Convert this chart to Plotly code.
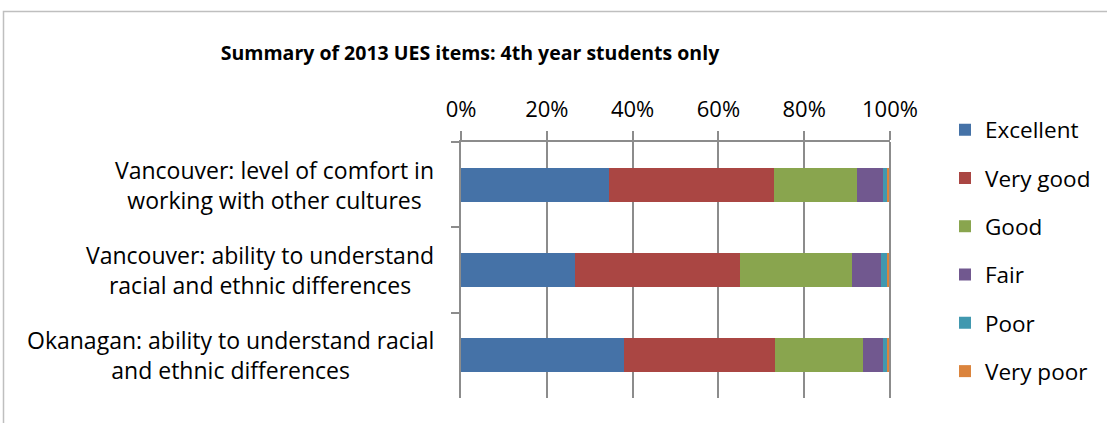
import plotly.graph_objects as go

categories = [
    "Vancouver: level of comfort in<br>working with other cultures",
    "Vancouver: ability to understand<br>racial and ethnic differences",
    "Okanagan: ability to understand racial<br>and ethnic differences",
]
series_names = ["Excellent", "Very good", "Good", "Fair", "Poor", "Very poor"]
excellent = [34.5, 26.6, 38.0]
very_good = [38.4, 38.4, 35.3]
good = [19.3, 26.1, 20.3]
fair = [6.2, 6.8, 4.8]
poor = [0.9, 1.4, 1.0]
very_poor = [0.7, 0.7, 0.6]
series_values = [excellent, very_good, good, fair, poor, very_poor]
colors = ["#4572A7", "#AA4643", "#89A54E", "#71588F", "#4198AF", "#DB843D"]
x_ticks = [0, 20, 40, 60, 80, 100]

W, H = 1107, 423
L, R, T, B = 461, 890, 142, 398


def px_x(xp):
    return (xp - L) / (R - L)


def px_y(yp):
    return (B - yp) / (B - T)


fig = go.Figure()
legend_layouts = {}
for i, (name, vals, col) in enumerate(zip(series_names, series_values, colors)):
    key = "legend" if i == 0 else f"legend{i + 1}"
    fig.add_trace(go.Bar(
        y=categories, x=vals, name=name, orientation="h",
        marker=dict(color=col, line=dict(width=0)),
        legend=key, hoverinfo="x+name",
    ))
    legend_layouts[key] = dict(
        x=px_x(945), y=px_y(130 + 48.3 * i), xanchor="left", yanchor="middle",
        font=dict(size=22.5, color="#000000"), bgcolor="rgba(0,0,0,0)",
    )

annotations = []
for cat in categories:
    annotations.append(dict(
        text=cat, xref="paper", yref="y", x=px_x(436), y=cat,
        xanchor="right", yanchor="middle", align="center", showarrow=False,
        font=dict(size=23, color="#000000"),
    ))

fig.update_layout(
    width=W, height=H,
    margin=dict(l=L, r=W - R, t=T, b=H - B, pad=0, autoexpand=False),
    paper_bgcolor="white", plot_bgcolor="white",
    font=dict(family="Open Sans", color="#000000"),
    barmode="stack", bargap=0.6,
    title=dict(
        text="<b>Summary of 2013 UES items: 4th year students only</b>",
        x=470 / W, xanchor="center", y=1 - 53 / H, yanchor="middle",
        xref="container", yref="container",
        font=dict(size=19.5, color="#000000"),
    ),
    xaxis=dict(
        side="top", range=[0, 100], tickvals=x_ticks,
        ticktext=[f"{v}%" for v in x_ticks],
        showgrid=True, gridcolor="#8C8C8C", gridwidth=1.5,
        ticks="outside", ticklen=9, tickcolor="#8C8C8C", tickwidth=1.5,
        showline=True, linecolor="#8C8C8C", linewidth=1.5,
        zeroline=False, tickfont=dict(size=22, color="#000000"),
        ticklabelstandoff=5, fixedrange=True,
    ),
    yaxis=dict(
        autorange="reversed", showticklabels=False,
        ticks="outside", tickson="boundaries", ticklen=8,
        tickcolor="#8C8C8C", tickwidth=1.5,
        showline=True, linecolor="#8C8C8C", linewidth=1.5,
        showgrid=False, zeroline=False, fixedrange=True,
    ),
    annotations=annotations,
    shapes=[
        dict(
            type="rect", xref="paper", yref="paper",
            x0=px_x(3.5), x1=px_x(1200), y0=px_y(500), y1=px_y(11.5),
            line=dict(color="#BFBFBF", width=1.5), fillcolor="rgba(0,0,0,0)", layer="below",
        ),
        dict(
            type="line", xref="paper", yref="paper",
            x0=1, x1=1, y0=0, y1=1,
            line=dict(color="#8C8C8C", width=2), layer="above",
        ),
    ],
    showlegend=True,
    **legend_layouts,
)

fig.write_html("out.html")
